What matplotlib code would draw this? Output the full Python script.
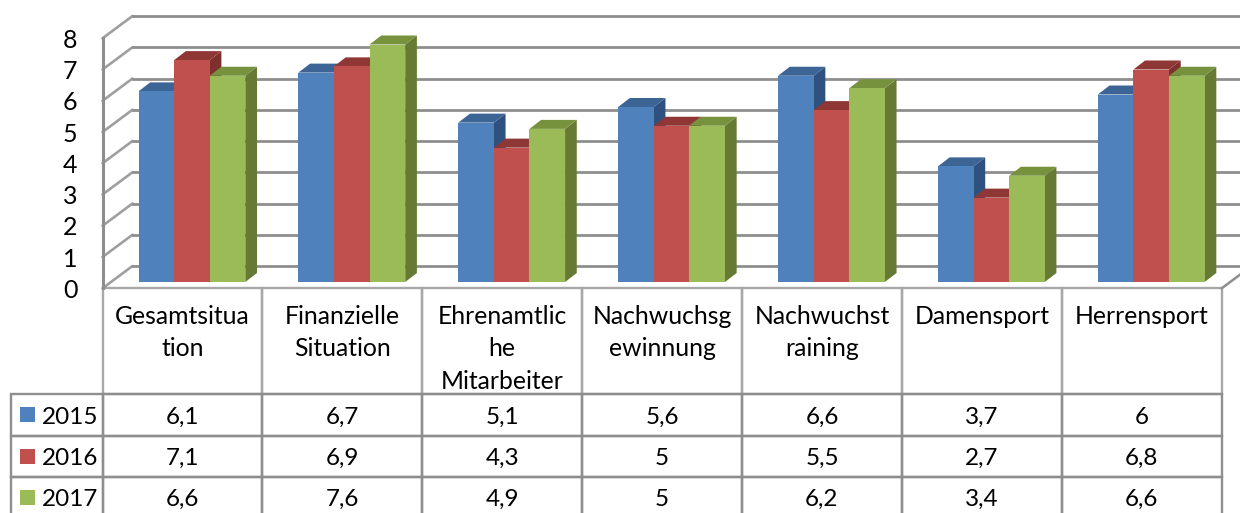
import matplotlib
matplotlib.use('Agg')
import matplotlib.pyplot as plt
from matplotlib.patches import Polygon, Rectangle
from matplotlib.table import Table

plt.rcParams['font.family'] = ['Lato', 'DejaVu Sans']

# data
categories = ['Gesamtsitua\ntion', 'Finanzielle\nSituation', 'Ehrenamtlic\nhe\nMitarbeiter',
              'Nachwuchsg\newinnung', 'Nachwuchst\nraining', 'Damensport', 'Herrensport']
years = ['2015', '2016', '2017']
values_2015 = [6.1, 6.7, 5.1, 5.6, 6.6, 3.7, 6]
values_2016 = [7.1, 6.9, 4.3, 5, 5.5, 2.7, 6.8]
values_2017 = [6.6, 7.6, 4.9, 5, 6.2, 3.4, 6.6]
y_ticks = [0, 1, 2, 3, 4, 5, 6, 7, 8]

series = [values_2015, values_2016, values_2017]
front_colors = ['#4f81bd', '#c0504d', '#9bbb59']
top_colors = ['#3c6494', '#8e3735', '#76923c']
side_colors = ['#2f5180', '#7d302e', '#667a34']
grid_color = '#8e8e8e'

W, H = 1240, 513
left, right = 102.5, 1221.7
top, bottom = 38.3, 288.3

fig = plt.figure(figsize=(W / 100, H / 100), dpi=100)
ax = fig.add_axes([left / W, 1 - bottom / H, (right - left) / W, (bottom - top) / H])
ax.set_xlim(0, len(categories))
ax.set_ylim(0, 8)

# pixels to data units
ux = len(categories) / (right - left)
uy = 8 / (bottom - top)

for s in ax.spines.values():
    s.set_visible(False)
ax.set_xticks([])
ax.set_yticks(y_ticks)
ax.tick_params(axis='y', length=0, pad=18, labelsize=18, labelcolor='black')

# 3d walls
wall_dx = 30 * ux
wall_dy = 22.3 * uy
for v in y_ticks:
    ax.plot([0, wall_dx], [v, v + wall_dy], color=grid_color, lw=1.9, alpha=0.85,
            clip_on=False, zorder=1, solid_capstyle='round')
    ax.plot([wall_dx, 7 + wall_dx], [v + wall_dy, v + wall_dy], color=grid_color, lw=2,
            clip_on=False, zorder=1)
ax.plot([0, 0], [0, 8], color=grid_color, lw=2.2, clip_on=False, zorder=1)
ax.plot([7, 7 + wall_dx], [0, wall_dy], color=grid_color, lw=1.8, clip_on=False, zorder=1)

# bars, left to right so each front covers the side of the previous one
bar_w = 35.6 * ux
bar_start = 36 * ux
base = 6.3 * uy
depth_x = 11.7 * ux
depth_y = 9 * uy
for i in range(len(categories)):
    for j, vals in enumerate(series):
        x0 = i + bar_start + j * bar_w
        x1 = x0 + bar_w
        t = base + vals[i]
        z = 3 + i + j * 0.1
        ax.add_patch(Polygon([(x1, base), (x1 + depth_x, base + depth_y),
                              (x1 + depth_x, t + depth_y), (x1, t)],
                             fc=side_colors[j], ec='none', zorder=z, clip_on=False))
        ax.add_patch(Polygon([(x0, t), (x0 + depth_x, t + depth_y),
                              (x1 + depth_x, t + depth_y), (x1, t)],
                             fc=top_colors[j], ec='none', zorder=z, clip_on=False))
        ax.bar(x0, vals[i], width=bar_w, bottom=base, align='edge', color=front_colors[j],
               zorder=z + 0.01)

# data table below the plot, sizes are in axes fractions
# the bbox only counts cells from column 0 on, the label column hangs to the left of it
col_w = 1 / len(categories)
label_w = 91.5 / (right - left)
head_h = 106 / (bottom - top)
row_h = 41.4 / (bottom - top)
table = Table(ax, bbox=[0, -(head_h + 3 * row_h), 1, head_h + 3 * row_h])
for c in range(len(categories)):
    cell = table.add_cell(0, c, col_w, head_h, text='', loc='center')
    cell.set_edgecolor('#a8a8a8')
for r, vals in enumerate(series):
    cell = table.add_cell(r + 1, -1, label_w, row_h, text=years[r], loc='left')
    cell.PAD = 0.34
    cell.set_edgecolor(grid_color)
    for c, v in enumerate(vals):
        cell = table.add_cell(r + 1, c, col_w, row_h, text=f'{v:g}'.replace('.', ','), loc='center')
        cell.set_edgecolor(grid_color)
for cell in table.get_celld().values():
    cell.set_linewidth(1.7)
    cell.set_facecolor('none')
    cell.get_text().set_va('center_baseline')
table.auto_set_font_size(False)
table.set_fontsize(17.5)
table.set_clip_on(False)
ax.add_table(table)

# category labels sit at the top of the header cells
for i, name in enumerate(categories):
    ax.text(i + 0.5, -16.3 * uy, name, ha='center', va='top', fontsize=17.8, linespacing=1.5,
            clip_on=False)

# legend keys in the row label cells
key = 15
for j in range(len(years)):
    y_mid = -(106 + (j + 0.5) * 41.4) * uy + 0.4 * uy
    ax.add_patch(Rectangle((-(left - 20) * ux, y_mid - key / 2 * uy), key * ux, key * uy,
                           fc=front_colors[j], ec='none', clip_on=False, zorder=5))

fig.savefig('out.png', dpi=100, facecolor='white')
